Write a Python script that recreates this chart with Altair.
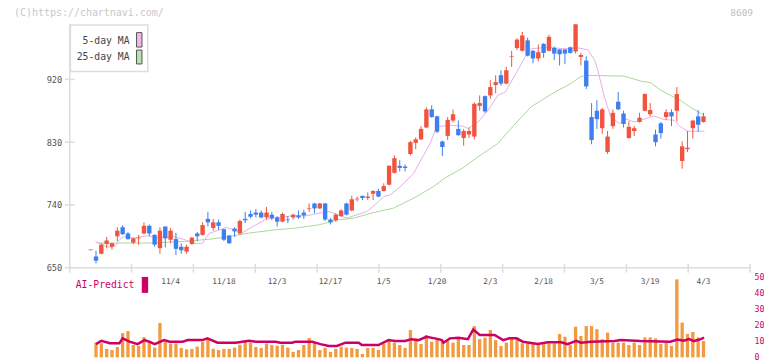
import altair as alt
import pandas as pd

# ---------------- data ----------------
# daily candles (index 0 .. 115)
OPEN = [675, 666, 670, 684, 680, 695, 708, 699, 686, 692,
        699, 710, 697, 678, 709, 690, 691, 680, 673, 684,
        699, 697, 720, 707, 715, 705, 696, 706, 699, 720,
        727, 729, 729, 722, 726, 722, 716, 719, 722, 725,
        729, 734, 742, 735, 742, 719, 718, 724, 742, 732,
        748, 753, 750, 756, 760, 760, 769, 786, 796, 795,
        813, 829, 834, 851, 877, 867, 831, 839, 861, 849,
        836, 841, 838, 882, 896, 897, 912, 926, 914, 952,
        965, 961, 976, 961, 950, 971, 961, 965, 963, 963,
        966, 960, 952, 947, 866, 875, 850, 816, 853, 888,
        871, 836, 846, 859, 875, 870, 841, 857, 866, 873,
        875, 803, 820, 850, 867, 859]
HIGH = [676, 674, 685, 694, 686, 708, 711, 701, 693, 697,
        715, 712, 698, 708, 709, 707, 700, 685, 683, 694,
        701, 715, 730, 720, 719, 706, 697, 708, 719, 730,
        732, 734, 732, 737, 730, 724, 729, 724, 727, 732,
        733, 742, 743, 743, 743, 721, 728, 734, 743, 753,
        752, 753, 758, 761, 763, 771, 797, 811, 804, 798,
        832, 837, 853, 880, 883, 868, 832, 866, 877, 861,
        849, 851, 887, 897, 897, 919, 926, 933, 938, 961,
        979, 988, 980, 962, 970, 972, 984, 967, 963, 963,
        967, 999, 958, 953, 886, 890, 879, 846, 877, 902,
        875, 860, 853, 872, 900, 886, 848, 859, 877, 877,
        909, 831, 846, 861, 876, 872]
LOW = [675, 656, 669, 678, 676, 688, 697, 690, 684, 682,
       698, 695, 680, 670, 679, 685, 668, 670, 670, 683,
       688, 696, 709, 703, 704, 688, 684, 694, 697, 714,
       721, 722, 721, 719, 718, 709, 715, 714, 719, 720,
       720, 730, 728, 734, 717, 712, 716, 723, 725, 731,
       745, 747, 747, 747, 751, 759, 768, 785, 788, 788,
       811, 820, 833, 850, 865, 843, 810, 833, 858, 839,
       825, 836, 834, 875, 872, 892, 900, 911, 913, 938,
       962, 960, 953, 943, 946, 951, 960, 948, 940, 942,
       957, 957, 940, 906, 827, 849, 842, 813, 849, 876,
       851, 835, 839, 858, 874, 867, 824, 835, 862, 853,
       860, 792, 816, 835, 845, 858]
CLOSE = [676, 660, 683, 689, 685, 703, 698, 691, 692, 693,
         710, 699, 683, 703, 692, 703, 677, 675, 680, 693,
         695, 711, 715, 715, 710, 690, 685, 702, 717, 718,
         723, 726, 722, 729, 721, 716, 727, 718, 726, 722,
         725, 735, 735, 742, 719, 715, 726, 732, 726, 748,
         749, 750, 752, 760, 752, 767, 796, 807, 793, 793,
         830, 834, 849, 877, 866, 845, 823, 862, 870, 840,
         846, 846, 885, 886, 874, 909, 916, 914, 933, 953,
         977, 983, 954, 950, 959, 958, 981, 957, 956, 957,
         958, 999, 955, 910, 833, 863, 877, 838, 872, 877,
         856, 852, 850, 865, 899, 876, 830, 843, 873, 867,
         899, 824, 822, 861, 855, 867]

# volume (x10k shares) for candle index 1 .. 115
VOL_IDX = list(range(1, 116))
VOLUME = [9.2, 8.8, 5.3, 4.6, 6.5, 15.2, 16.4, 7.7, 7.1, 12.7,
          9.2, 6.1, 21.6, 9.8, 8.6, 8.6, 5.9, 5.0, 5.3, 6.7,
          9.8, 11.2, 5.3, 4.6, 5.3, 5.3, 6.1, 7.9, 9.8, 9.2,
          6.5, 5.9, 8.6, 7.7, 7.3, 7.9, 6.1, 3.4, 4.6, 7.7,
          12.1, 9.2, 4.6, 5.9, 3.4, 5.3, 6.7, 6.1, 5.9, 5.3,
          2.1, 5.9, 5.9, 4.6, 8.6, 10.4, 9.2, 7.7, 5.9, 17.1,
          11.9, 8.3, 14.0, 9.8, 11.9, 10.8, 10.4, 9.2, 11.9, 7.7,
          7.7, 19.6, 11.4, 12.3, 17.1, 10.8, 7.1, 9.2, 11.9, 12.5,
          8.8, 8.8, 8.3, 7.7, 8.3, 8.8, 8.8, 14.6, 12.9, 7.7,
          19.2, 13.3, 19.6, 19.6, 17.7, 11.4, 15.5, 9.2, 9.2, 9.2,
          7.7, 9.2, 7.7, 12.5, 12.5, 11.9, 8.3, 9.2, 7.1, 48.9,
          21.8, 14.6, 15.9, 12.5, 10.2]

# 5-day moving average
MA5_X = [0.9, 2.0, 2.9, 3.9, 4.8, 5.4, 6.0, 7.0, 7.9, 8.8,
         9.8, 10.7, 12.6, 13.5, 15.4, 17.3, 18.2, 19.1, 20.0, 21.0,
         22.2, 25.4, 28.5, 32.9, 37.8, 40.4, 42.8, 44.7, 48.1, 49.3,
         51.8, 53.7, 55.0, 56.2, 58.1, 60.6, 61.8, 63.7, 64.9, 67.4,
         69.9, 70.8, 72.7, 74.6, 76.4, 77.8, 79.6, 81.5, 82.6, 85.8,
         89.0, 91.4, 93.3, 94.6, 95.1, 96.4, 97.6, 99.2, 100.1, 102.0,
         103.2, 105.7, 107.6, 109.5, 110.7, 112.0, 113.8, 115.2]
MA5_Y = [687.6, 683.9, 680.4, 679.0, 682.9, 690.0, 693.9, 694.7, 692.4, 693.3,
         694.7, 695.7, 692.4, 693.3, 694.7, 691.0, 688.6, 686.1, 684.3, 685.3,
         699.0, 707.6, 700.4, 719.6, 724.3, 724.3, 728.1, 730.4, 721.0, 724.3,
         730.4, 742.4, 751.9, 754.3, 766.1, 785.2, 801.9, 828.1, 851.9, 854.3,
         852.9, 849.6, 859.0, 875.7, 897.1, 901.9, 925.7, 951.9, 963.9, 966.1,
         963.9, 965.3, 962.4, 947.1, 935.3, 894.7, 866.1, 856.7, 863.9, 859.0,
         861.4, 867.6, 862.4, 861.4, 851.9, 845.7, 845.7, 845.7]

# 25-day moving average
MA25_X = [1.1, 11.4, 17.6, 22.6, 26.0, 29.7, 34.7, 38.4, 42.8, 46.5,
          49.3, 53.1, 56.8, 60.6, 64.3, 66.7, 69.9, 72.7, 76.4, 78.3,
          82.6, 85.8, 87.7, 90.1, 92.0, 93.9, 100.1, 103.2, 105.1, 107.0,
          108.8, 110.7, 112.6, 115.1]
MA25_Y = [685.3, 685.3, 687.6, 691.0, 694.7, 699.6, 704.3, 706.7, 711.4, 718.6,
          721.0, 729.0, 735.3, 749.6, 766.1, 779.6, 793.3, 809.0, 828.1, 844.7,
          880.4, 895.7, 904.3, 913.9, 924.3, 925.7, 924.7, 917.6, 915.3, 904.3,
          897.1, 890.0, 879.6, 868.6]

# AI-Predict line (volume panel)
AI_X = [1.0, 2.0, 3.6, 5.4, 6.0, 7.3, 8.8, 10.1, 11.0, 12.0,
        13.8, 14.8, 17.3, 18.2, 21.0, 21.9, 23.8, 27.2, 29.7, 31.0,
        34.7, 35.6, 37.8, 38.4, 41.6, 43.1, 44.7, 46.2, 47.8, 50.3,
        50.9, 54.0, 55.9, 57.1, 59.0, 60.2, 61.5, 63.0, 64.6, 65.9,
        66.2, 67.4, 69.0, 70.8, 71.8, 73.0, 75.8, 77.4, 78.6, 79.9,
        81.1, 83.9, 85.8, 88.3, 89.5, 91.1, 92.0, 93.9, 98.3, 99.5,
        103.2, 108.8, 110.1, 111.3, 112.3, 113.2, 114.5, 115.1]
AI_Y = [8.3, 10.4, 8.8, 8.8, 11.9, 9.8, 8.3, 10.8, 9.8, 8.3,
        10.8, 9.8, 9.8, 10.8, 10.8, 11.9, 9.2, 9.2, 10.4, 9.8,
        9.8, 9.2, 9.2, 9.8, 9.8, 8.3, 7.1, 7.1, 9.2, 9.2,
        7.7, 7.7, 10.8, 10.2, 10.2, 11.4, 10.8, 12.9, 11.9, 10.8,
        9.2, 11.9, 12.3, 11.4, 17.5, 14.0, 14.0, 10.8, 11.9, 11.9,
        9.8, 8.3, 9.4, 9.4, 8.3, 10.4, 9.2, 9.8, 10.2, 10.8,
        10.2, 9.8, 11.2, 10.4, 11.4, 10.2, 11.4, 12.3]

DATE_LABELS = ["11/4", "11/18", "12/3", "12/17", "1/5", "1/20",
               "2/3", "2/18", "3/5", "3/19", "4/3"]
DATE_IDX = [15, 25, 35, 45, 55, 65, 75, 85, 95, 105, 115]
PRICE_TICKS = [650, 740, 830, 920]
VOL_TICKS = [0, 10, 20, 30, 40, 50]
LEGEND_LABELS = ["5-day MA", "25-day MA"]

# ---------------- layout / style ----------------
FONT = "DejaVu Sans Mono"
W, H = 683, 340
X_DOM = [-3.925, 123.74]
P_DOM = [521.4, 1007.1]
V_DOM = [0, 212.5]
UP, DOWN = "#f2533f", "#3d7ff0"
PINK, GREEN = "#e6aee6", "#a9d99a"
ORANGE, MAG = "#f39a3e", "#cc0066"
AXC = "#dddddd"

xs = alt.Scale(domain=X_DOM, nice=False, zero=False, padding=0)
ps = alt.Scale(domain=P_DOM, nice=False, zero=False, padding=0)
vs = alt.Scale(domain=V_DOM, nice=False, zero=False, padding=0)
XN = dict(scale=xs, axis=None)
PAXIS = alt.Axis(values=PRICE_TICKS, ticks=False, tickSize=0, domain=False, grid=False,
                 labelPadding=8, labelFont=FONT, labelFontSize=8.7, labelColor="#555555",
                 title=None)
VAXIS = alt.Axis(orient="right", values=VOL_TICKS, ticks=False, tickSize=0, domain=False,
                 grid=False, labelPadding=4, labelFont=FONT, labelFontSize=8.3,
                 labelColor=MAG, title=None)

candles = pd.DataFrame({"idx": list(range(len(OPEN))), "o": OPEN, "h": HIGH,
                        "l": LOW, "c": CLOSE})
candles["dir"] = ["up" if c >= o else "down" for o, c in zip(OPEN, CLOSE)]
col = alt.Color("dir:N", scale=alt.Scale(domain=["up", "down"], range=[UP, DOWN]),
                legend=None)

wicks = alt.Chart(candles).mark_rule(strokeWidth=1).encode(
    x=alt.X("idx:Q", **XN), y=alt.Y("l:Q", scale=ps, axis=PAXIS), y2="h:Q", color=col)
bodies = alt.Chart(candles).mark_bar(size=4.4).encode(
    x=alt.X("idx:Q", **XN), y=alt.Y("o:Q", scale=ps, axis=PAXIS), y2="c:Q", color=col)

ma5 = alt.Chart(pd.DataFrame({"x": MA5_X, "y": MA5_Y})).mark_line(
    color=PINK, strokeWidth=1).encode(x=alt.X("x:Q", **XN), y=alt.Y("y:Q", scale=ps, axis=PAXIS))
ma25 = alt.Chart(pd.DataFrame({"x": MA25_X, "y": MA25_Y})).mark_line(
    color=GREEN, strokeWidth=1).encode(x=alt.X("x:Q", **XN), y=alt.Y("y:Q", scale=ps, axis=PAXIS))

# axis lines and ticks of the price panel
vline = alt.Chart(pd.DataFrame({"x": [X_DOM[0]], "y1": [PRICE_TICKS[0]], "y2": [max(HIGH)]})).mark_rule(
    color=AXC, strokeWidth=1.5).encode(x=alt.X("x:Q", **XN),
                                       y=alt.Y("y1:Q", scale=ps, axis=PAXIS), y2="y2:Q")
hline = alt.Chart(pd.DataFrame({"x1": [X_DOM[0]], "x2": [X_DOM[1]], "y": [PRICE_TICKS[0]]})).mark_rule(
    color=AXC, strokeWidth=1.5).encode(x=alt.X("x1:Q", **XN), x2="x2:Q",
                                       y=alt.Y("y:Q", scale=ps, axis=PAXIS))
yticks = alt.Chart(pd.DataFrame({"y": PRICE_TICKS})).mark_rule(color=AXC, strokeWidth=1.5).encode(
    y=alt.Y("y:Q", scale=ps, axis=PAXIS), x=alt.value(-5), x2=alt.value(5))
tick_idx = [X_DOM[0] + k * (X_DOM[1] - X_DOM[0]) / 11 for k in range(12)]
xticks = alt.Chart(pd.DataFrame({"x": tick_idx})).mark_rule(color=AXC, strokeWidth=1.5).encode(
    x=alt.X("x:Q", **XN), y=alt.value(246), y2=alt.value(255))

price = alt.layer(vline, hline, yticks, xticks, ma25, ma5, wicks, bodies)

vol_df = pd.DataFrame({"idx": VOL_IDX, "v": VOLUME})
bars = alt.Chart(vol_df).mark_bar(size=3.3, color=ORANGE).encode(
    x=alt.X("idx:Q", **XN), y=alt.Y("v:Q", scale=vs, axis=VAXIS))
ai = alt.Chart(pd.DataFrame({"x": AI_X, "v": AI_Y})).mark_line(
    color=MAG, strokeWidth=2.5).encode(x=alt.X("x:Q", **XN), y=alt.Y("v:Q", scale=vs, axis=VAXIS))
volume = alt.layer(bars, ai)

# texts and legends
dates = alt.Chart(pd.DataFrame({"idx": DATE_IDX, "t": DATE_LABELS})).mark_text(
    font=FONT, fontSize=7.8, color="#555555", baseline="middle", align="center").encode(
    x=alt.X("idx:Q", **XN), y=alt.value(264), text="t:N")

one = pd.DataFrame({"a": [0]})
watermark = alt.Chart(pd.DataFrame({"t": ["(C)https://chartnavi.com/"]})).mark_text(
    font=FONT, fontSize=10, color="#c8c8c8", align="left", baseline="middle").encode(
    x=alt.value(-56), y=alt.value(-5.5), text="t:N")
code = alt.Chart(pd.DataFrame({"t": ["8609"]})).mark_text(
    font=FONT, fontSize=9.5, color="#c0c0c0", align="right", baseline="middle").encode(
    x=alt.value(686), y=alt.value(-5.5), text="t:N")

lbox = alt.Chart(one).mark_rect(fill="white", stroke=AXC, strokeWidth=1.5).encode(
    x=alt.value(0.7), x2=alt.value(78.3), y=alt.value(6.3), y2=alt.value(53))
ltext1 = alt.Chart(pd.DataFrame({"t": [LEGEND_LABELS[0]]})).mark_text(
    font=FONT, fontSize=9.8, color="#444444", align="right", baseline="middle").encode(
    x=alt.value(60), y=alt.value(22.5), text="t:N")
ltext2 = alt.Chart(pd.DataFrame({"t": [LEGEND_LABELS[1]]})).mark_text(
    font=FONT, fontSize=9.8, color="#444444", align="right", baseline="middle").encode(
    x=alt.value(60), y=alt.value(39), text="t:N")
sw_pink = alt.Chart(one).mark_rect(fill="#f0b8e8", stroke="#555555", strokeWidth=1).encode(
    x=alt.value(67), x2=alt.value(72.5), y=alt.value(14), y2=alt.value(28.5))
sw_green = alt.Chart(one).mark_rect(fill="#b8e0b0", stroke="#555555", strokeWidth=1).encode(
    x=alt.value(67), x2=alt.value(72.5), y=alt.value(31.5), y2=alt.value(45.5))

ai_text = alt.Chart(pd.DataFrame({"t": ["AI-Predict"]})).mark_text(
    font=FONT, fontSize=9.8, color=MAG, align="left", baseline="middle").encode(
    x=alt.value(6), y=alt.value(267.5), text="t:N")
ai_sw = alt.Chart(one).mark_rect(fill=MAG).encode(
    x=alt.value(72.3), x2=alt.value(78.7), y=alt.value(259.3), y2=alt.value(275.3))

deco = alt.layer(dates, watermark, code, lbox, ltext1, ltext2, sw_pink, sw_green, ai_text, ai_sw)

chart = alt.layer(volume, price, deco).resolve_scale(y="independent").properties(
    width=W, height=H,
    autosize=alt.AutoSizeParams(type="none"),
    padding={"left": 62, "top": 10, "right": 14, "bottom": 6},
    background="white",
).configure_view(stroke=None)

chart.save("out.html", embed_options={"renderer": "svg", "actions": False})
